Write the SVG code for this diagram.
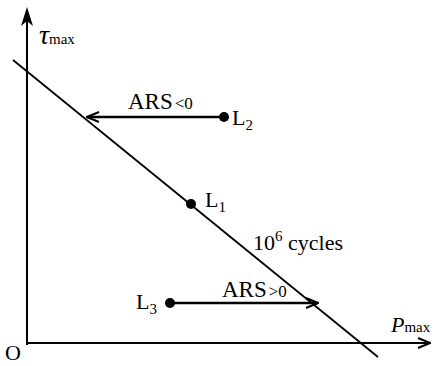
<svg xmlns="http://www.w3.org/2000/svg" width="435" height="366" viewBox="0 0 435 366">
<style>
.ax{stroke:#000;stroke-width:2;fill:none}
.arr{stroke:#000;stroke-width:2.5;fill:none}
.dot{fill:#000}
</style>
<defs>
<marker id="open" viewBox="0 0 14 12" refX="13" refY="6" markerWidth="14" markerHeight="12" markerUnits="userSpaceOnUse" orient="auto">
<path d="M1,1 L13,6 L1,11" fill="none" stroke="#000" stroke-width="2"/>
</marker>
</defs>
<g id="connectors">
<path class="ax" d="M27,345 V14"/>
<path d="M27,7 L33,26 L27,21 L21,26 Z" fill="#000"/>
<path class="ax" d="M26,343 H430" marker-end="url(#open)"/>
<path d="M13,60 L378,357" stroke="#000" stroke-width="1.8" fill="none"/>
<path class="arr" d="M224,117 H87" marker-end="url(#open)"/>
<path class="arr" d="M170,303 H318" marker-end="url(#open)"/>
</g>
<g id="axis-labels">
<text x="39" y="44" font-family="Liberation Serif" font-size="28" font-style="italic">τ<tspan font-style="normal" font-size="15">max</tspan></text>
<text x="391" y="332" font-family="Liberation Serif" font-size="22" font-style="italic">P<tspan font-style="normal" font-size="15">max</tspan></text>
<text x="5" y="360" font-family="Liberation Serif" font-size="22">O</text>
</g>
<g id="L2">
<circle class="dot" cx="224" cy="117" r="5"/>
<text x="232" y="125" font-family="Liberation Serif" font-size="22">L<tspan font-size="15" dy="5">2</tspan></text>
</g>
<g id="L1">
<circle class="dot" cx="191" cy="204" r="5"/>
<text x="205" y="207" font-family="Liberation Serif" font-size="22">L<tspan font-size="15" dy="5">1</tspan></text>
</g>
<g id="L3">
<circle class="dot" cx="170" cy="303" r="5"/>
<text x="136" y="309" font-family="Liberation Serif" font-size="22">L<tspan font-size="15" dy="5">3</tspan></text>
</g>
<g id="labels">
<text x="128" y="109" font-family="Liberation Serif" font-size="23">ARS<tspan font-size="17" dx="2">&lt;0</tspan></text>
<text x="222" y="297" font-family="Liberation Serif" font-size="23">ARS<tspan font-size="17" dx="2">&gt;0</tspan></text>
<text x="253" y="250" font-family="Liberation Serif" font-size="22">10<tspan font-size="15" dy="-9">6</tspan><tspan dy="9"> cycles</tspan></text>
</g>
</svg>
